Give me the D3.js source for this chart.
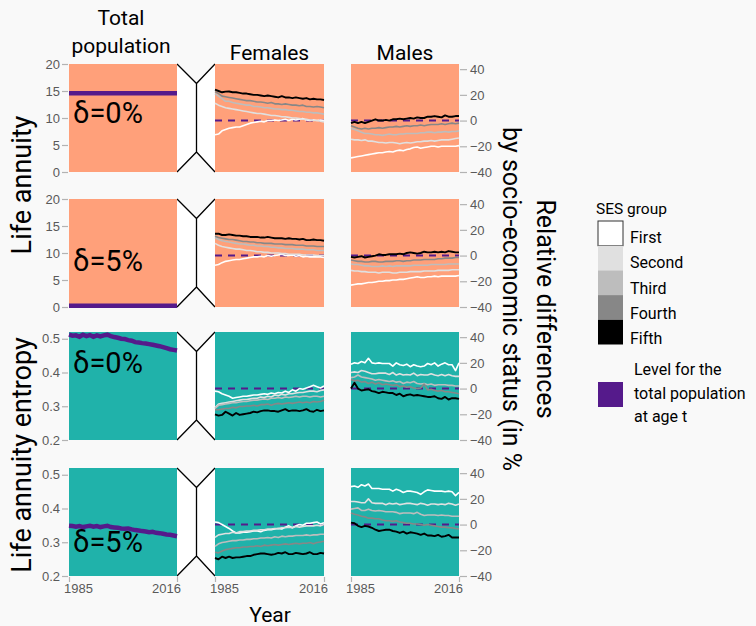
<!DOCTYPE html>
<html>
<head>
<meta charset="utf-8">
<script src="https://cdn.jsdelivr.net/npm/d3@7"></script>
<style>
  body { margin: 0; background: #f9f9f9; }
  svg { font-family: Roboto, "Noto Sans", sans-serif; display: block; }
</style>
</head>
<body>
<svg width="756" height="626"></svg>
<script>
// years shown on every panel
const years = d3.range(1985, 2017);

const sesGroups = ["First", "Second", "Third", "Fourth", "Fifth"];
const sesColors = ["#ffffff", "#e0e0e0", "#bdbdbd", "#878787", "#000000"];

// total population level (left column)
const totalAnnuity0 = [14.6,14.6,14.6,14.6,14.6,14.6,14.6,14.6,14.6,14.6,14.6,14.6,14.6,14.6,14.6,14.6,14.6,14.6,14.6,14.6,14.6,14.6,14.6,14.6,14.6,14.6,14.6,14.6,14.6,14.6,14.6,14.6];
const totalAnnuity5 = [0.25,0.25,0.25,0.25,0.25,0.25,0.25,0.25,0.25,0.25,0.25,0.25,0.25,0.25,0.25,0.25,0.25,0.25,0.25,0.25,0.25,0.25,0.25,0.25,0.25,0.25,0.25,0.25,0.25,0.25,0.25,0.25];
const totalEntropy0 = [0.512,0.509,0.51,0.506,0.512,0.508,0.511,0.506,0.51,0.507,0.51,0.512,0.508,0.505,0.503,0.5,0.499,0.496,0.494,0.49,0.489,0.487,0.486,0.484,0.482,0.48,0.478,0.475,0.472,0.469,0.467,0.465];
const totalEntropy5 = [0.349,0.348,0.346,0.348,0.345,0.347,0.349,0.346,0.348,0.345,0.347,0.349,0.345,0.344,0.343,0.341,0.34,0.341,0.338,0.336,0.335,0.333,0.332,0.33,0.331,0.328,0.327,0.325,0.323,0.322,0.32,0.318];

// relative differences by SES group (First..Fifth), in %
const femAnnuity0 = [
  [-11,-10.5,-8,-7,-6,-5.5,-5,-5,-4,-3,-2,-1.5,-1,-0.5,-1,0,0,0.5,0,0.5,1,0,1,0.5,1,1.5,0.5,0,0.5,0,0.5,0],
  [13.5,12,11,10,9.5,9,8.5,8,7.5,7,6.5,6,5.5,5.5,5,4.5,4,4,3.5,3,3,2.5,2,2,1.5,1,1,0.5,0,0,-0.5,-1],
  [21,19,17,15,15,14,13.5,13,12.5,12,12,11,11,10.5,10,10,9.5,9,9,8.5,8.5,8,8,7.5,7,7,6.5,6.5,6,6,5.5,5],
  [22.5,21,19,18.5,18,17.5,17,16.5,16,15.5,15.5,15,14.5,14.5,14,13.5,14,13,13,12.5,13,12.5,12,12,11.5,12,11,11,10.5,11,10.5,10],
  [24,23,22,22.5,22.6,22,22,21.5,21,21,20.5,20,20,19.5,19,19.5,19,18.5,18,19,18,18,17.5,18,17.5,17,17.5,16.5,17,16.5,16.5,16]
];
const maleAnnuity0 = [
  [-29,-28.5,-28,-27.5,-27,-26.5,-26,-25.5,-25,-25,-24.5,-24,-24.5,-23.5,-23,-23.5,-22.5,-22,-21,-20.5,-21.5,-21,-20.5,-20,-20,-20.5,-20,-20,-20,-20,-20,-19.5],
  [-14.5,-15,-15,-15.5,-15,-16,-16,-16.5,-17,-17,-17.5,-17,-17,-17.5,-18,-17.5,-17,-17.5,-17,-16.5,-16.5,-16,-16,-15.5,-16,-15.5,-15,-15,-15,-14.5,-14,-13.5],
  [-6,-7,-8,-9,-10,-10,-10.5,-11,-11,-11.5,-11,-10.5,-11,-11,-10.5,-10.5,-10,-10,-10,-10,-9.5,-9.5,-9,-9,-9.5,-9,-9,-8.5,-9,-8.5,-8.5,-8],
  [-4,-5,-6,-6.5,-6,-6.5,-6,-6,-5.5,-6,-5.5,-5,-5,-4.5,-5,-4.5,-4,-4.5,-4,-4,-3.5,-4,-3.5,-3,-3,-3,-2.5,-3,-2.5,-2,-2.5,-2],
  [-2,-1,-2,-1,-2,-1,0,1,0,0,0.5,0,1,1,1.5,1,1.5,2,1.5,2.5,2,2,3,3,3.5,3,2.5,4,3,3,3.5,3.5]
];
const femAnnuity5 = [
  [-7.5,-7,-5.5,-4.5,-4,-3.5,-3,-3,-2.5,-2,-1.5,-1,-1,-0.5,-1,0,-0.5,0,0.5,1,0,0,0.5,-0.5,0,-1,-0.5,-1,-1,-1,-1,-1.5],
  [9.5,8,7,6.5,6,5.5,5,5,4.5,4,4,3.5,3,3,2.5,2.5,2,2,2,1.5,1.5,1,1,1,1,0.5,0.5,0.5,0.5,0,0,0],
  [14,12.5,11.5,11,10.5,10,9.5,9,9,8.5,8,8,7.5,7.5,7,7,6.5,6.5,6,6,5.5,5.5,5.5,5,5,5,4.5,4.5,4.5,4,4,4],
  [15,14,13.5,13,12.5,12.5,12,11.5,11,11,10.5,10.5,10,10,9.5,9.5,9.5,9,9,9,8.5,8.5,8.5,8,8,8,7.5,7.5,7.5,7,7,7],
  [17,17,16,16,16.5,16,15.5,15.5,15,15,14.5,14.5,14.5,14,14,14.5,14,13.5,13.5,13.5,13,13.5,13,13,12.5,13,12,12,12.5,12,12,11.5]
];
const maleAnnuity5 = [
  [-23,-22.5,-22,-22,-21.5,-21,-21,-20.5,-20,-20,-19.5,-19.5,-19,-19,-18.5,-18.5,-18,-17.5,-17,-16.5,-17,-17,-16.5,-16.5,-16,-16.5,-16,-16,-16,-16,-16,-15.5],
  [-11.5,-12,-12,-12.5,-12.5,-13,-13,-13,-13.5,-13,-13,-13,-13.5,-13.5,-13,-13,-13,-12.5,-12.5,-12.5,-12.5,-12,-12,-12,-12,-11.5,-11.5,-11.5,-11.5,-11,-11,-11],
  [-6.5,-7,-7,-7.5,-8,-8,-8.5,-8.5,-8.5,-8,-8.5,-8,-8.5,-8,-8,-8,-8,-8,-7.5,-7.5,-7.5,-7.5,-7.5,-7,-7,-7,-7,-7,-6.5,-6.5,-6.5,-6.5],
  [-3.5,-4,-4.5,-4.5,-5,-5,-4.5,-4.5,-5,-5,-4.5,-4.5,-4.5,-4,-4,-4.5,-4,-4,-3.5,-3.5,-3.5,-3,-3,-3,-3,-2.5,-2.5,-2,-2,-2,-1.5,-1.5],
  [-1,-1.5,-1,-0.5,-1.5,-1,-0.5,0,1,0.5,0.5,1,1,1,1.5,1,2,2.5,2,1.5,2,3,2.5,2.5,3,2.5,3,2.5,3.5,3,2.5,2.5]
];
const femEntropy0 = [
  [-2,-2.5,-4,-5,-6,-7.5,-7,-6.5,-6,-6,-5.5,-5,-5,-4.5,-4,-4.5,-3.5,-4,-3,-3.5,-2,-3,-1,-2,0,-0.5,0.5,1.5,2.5,1.5,0.5,2],
  [-15,-12,-11.5,-11,-10.5,-10,-9.5,-9,-8.5,-8.5,-8,-7.5,-7.5,-6.5,-7,-6,-6.5,-5,-5.5,-4.5,-5,-4,-4,-3.5,-3,-3,-2.5,-2,-2,-2.5,-1.5,-1],
  [-15.5,-13,-12.5,-12,-11.5,-11,-11,-10.5,-10,-10,-9.5,-9,-9,-8.5,-8,-8.5,-7.5,-7.5,-7,-7.5,-6.5,-7,-6.5,-6,-6.5,-6,-6,-6.5,-6,-6,-6.5,-6],
  [-16.5,-16.5,-16,-15.5,-15.5,-14.5,-15,-14,-14,-13.5,-13.5,-13,-13.5,-12.5,-12.5,-12,-13,-12,-11.5,-12,-11.5,-11,-11.5,-11,-10.5,-11,-10.5,-11,-10,-10.5,-10,-9],
  [-20,-21,-20.5,-18,-19.5,-21,-19,-20.5,-20,-19.5,-19,-18,-18.5,-17.5,-17,-17,-17.5,-17.5,-18,-17,-16,-17.5,-17,-17,-17.5,-17,-16,-17.5,-18,-16.5,-17.5,-17]
];
const maleEntropy0 = [
  [19,20,19.5,21,20,23.5,20,19.5,20,19.5,19.5,19.5,17.5,20,18.5,18,19,17,18.5,17.5,17,17.5,19.5,18.5,20,17.5,19,20,18.5,18.5,14,20],
  [12.5,13,12.5,14,13.5,12.5,11.5,11.5,12,12,12,11,12.5,10.5,11.5,10.5,11,10.5,12,10,11,10.5,10.5,11.5,10.5,10,11,10,11,10,9.5,9.5],
  [8.5,9,10.5,9,8.5,8,7.5,6.5,7,6.5,6,5.5,6,5,5.5,4,5,4.5,5.5,4,3.5,4,3,3.5,2.5,3,3,3,2.5,2.5,2,2],
  [7,6,6.5,5,5.5,4,5,3.5,4.5,3,3.5,3,2.5,3,1.5,2,1,1.5,0.5,0,0.5,3.5,-1,-0.5,-1.5,-2,-1.5,-2.5,-2.5,-3,-3.5,-4],
  [0,4.5,0,-1.5,-1,-0.5,-2,-2.5,-3.5,-2.5,-3,-3.5,-3.5,-5,-4,-6,-5,-4.5,-5.5,-5,-5.5,-6,-6.5,-6.5,-6,-7.5,-8,-6.5,-8.5,-7.5,-7.5,-8]
];
const femEntropy5 = [
  [2,1.5,0,-1.5,-3,-5,-6.5,-6.5,-6,-6,-5.5,-5,-5,-5.5,-4.5,-4,-4,-3.5,-3,-3.5,-2,-1,-2.5,-1,0,-0.5,1,1,1.5,2,0.5,1.5],
  [-10,-8,-7.5,-7,-7,-6,-6.5,-5.5,-5.5,-5,-5,-4.5,-4.5,-4,-4,-3.5,-3.5,-3,-3,-2.5,-2.5,-2,-2.5,-1.5,-2,-1.5,-1,-1,-1,-0.5,-1,0],
  [-17,-15,-14,-13.5,-13,-12.5,-12.5,-12,-12,-11.5,-11.5,-11,-11,-10.5,-10.5,-10,-10.5,-9.5,-10,-9,-9.5,-9,-9,-8.5,-8.5,-8.5,-8,-8.5,-8,-8,-7.5,-7.5],
  [-21.5,-22,-20.5,-19.5,-19,-18.5,-18,-18,-17.5,-17.5,-17,-17,-16.5,-17,-16,-16.5,-16,-15.5,-16,-15.5,-15,-15.5,-15,-14.5,-15,-14.5,-14.5,-14,-15,-14,-13.5,-13],
  [-26,-27,-25,-26,-25,-26,-25.5,-25.5,-25,-24.5,-24.5,-23.5,-23,-22.5,-22.5,-23,-23.5,-23,-22,-22.5,-21.5,-23,-23,-22,-22.5,-23,-22.5,-21.5,-23,-23,-22,-22.5]
];
const maleEntropy5 = [
  [29.5,30,29,31,30,31.5,28,28,28,27.5,27.5,27.5,26,27.5,26.5,25,26,26,25.5,25,23.5,25.5,27,26.5,26,26,26,25.5,26,25.5,22.5,25],
  [18,18,17.5,17,17,20,17,16.5,16.5,16.5,15.5,16.5,16,16.5,15.5,16,16.5,16.5,16,15.5,16.5,16,15,16,16,15.5,16,15.5,16.5,16,15,16],
  [12,12.5,13,11,11,12,11,10.5,11,10.5,10,10,10,9.5,8.5,9,9,9,8.5,9.5,8,7,7.5,7.5,7.5,7,7.5,7,7,6.5,6.5,6.5],
  [9,8,7.5,6.5,6,5,5,4.5,4.5,3.5,3,3,2.5,3,2,1.5,1,1,0.5,0.5,0,-0.5,0,-0.5,-1,-1.5,-2,-2,-2.5,-2.5,-3,-3.5],
  [1.5,1,-1,-2,-1,-1.5,-2.5,-4,-5,-4.5,-4,-4,-5,-5.5,-6.5,-5.5,-7,-6,-6.5,-7,-8,-7,-8.5,-8.5,-9,-8,-9.5,-9,-8,-10,-10,-10]
];

const deltaLabels = ["δ=0%", "δ=5%", "δ=0%", "δ=5%"];
const annuityTicks = [0, 5, 10, 15, 20];
const entropyTicks = [0.2, 0.3, 0.4, 0.5];
const relTicks = [-40, -20, 0, 20, 40];
const yearTicks = [1985, 2016];

// ---- layout ----
const PURPLE = "#551a8b";
const SALMON = "#ffa07a";
const TEAL = "#20b2aa";
const PANEL_H = 108;
const rowTop = [64, 199, 332, 468];
const colTotal = [69, 177], colFem = [215, 324], colMale = [351, 459];
const deltaY = [59, 72, 41, 84];

const rows = [
  { total: totalAnnuity0, fem: femAnnuity0, male: maleAnnuity0, domain: [0, 20], ticks: annuityTicks, fmt: d3.format("d"), fill: SALMON },
  { total: totalAnnuity5, fem: femAnnuity5, male: maleAnnuity5, domain: [0, 20], ticks: annuityTicks, fmt: d3.format("d"), fill: SALMON },
  { total: totalEntropy0, fem: femEntropy0, male: maleEntropy0, domain: [0.2, 0.52], ticks: entropyTicks, fmt: d3.format(".1f"), fill: TEAL },
  { total: totalEntropy5, fem: femEntropy5, male: maleEntropy5, domain: [0.2, 0.52], ticks: entropyTicks, fmt: d3.format(".1f"), fill: TEAL }
];

var svg = d3.select("svg");

const xTotal = d3.scaleLinear().domain([1985, 2016]).range(colTotal);
const xFem = d3.scaleLinear().domain([1985, 2016]).range(colFem);
const xMale = d3.scaleLinear().domain([1985, 2016]).range(colMale);

function styleAxis(g) {
  g.select(".domain").remove();
  g.selectAll(".tick line").attr("stroke", "#b3b3b3").attr("stroke-width", 1.2);
  g.selectAll(".tick text").attr("fill", "#595959").style("font-size", "13px");
}

rows.forEach(function(row, i) {
  const top = rowTop[i], bottom = top + PANEL_H;
  const yLeft = d3.scaleLinear().domain(row.domain).range([bottom, top]);
  const yRel = d3.scaleLinear().domain([-40, 44]).range([bottom, top]);

  // hourglass connector between total and sex panels
  const mx = 196.5;
  svg.append("path")
    .attr("d", "M" + colTotal[1] + "," + top + " L" + mx + "," + (top + 19.5) + " L" + colFem[0] + "," + top +
      " L" + colFem[0] + "," + bottom + " L" + mx + "," + (bottom - 20) + " L" + colTotal[1] + "," + bottom + "Z")
    .attr("fill", "#ffffff");
  svg.append("path")
    .attr("d", "M" + colTotal[1] + "," + top + " L" + mx + "," + (top + 19.5) + " L" + colFem[0] + "," + top +
      " M" + mx + "," + (top + 19.5) + " L" + mx + "," + (bottom - 20) +
      " M" + colTotal[1] + "," + bottom + " L" + mx + "," + (bottom - 20) + " L" + colFem[0] + "," + bottom)
    .attr("fill", "none").attr("stroke", "#000").attr("stroke-width", 1.3);

  [[xTotal, colTotal], [xFem, colFem], [xMale, colMale]].forEach(function(c) {
    svg.append("rect")
      .attr("x", c[1][0]).attr("y", top)
      .attr("width", c[1][1] - c[1][0]).attr("height", PANEL_H)
      .attr("fill", row.fill);
  });

  // total population level
  svg.append("path")
    .datum(row.total)
    .attr("fill", "none")
    .attr("stroke", PURPLE)
    .attr("stroke-width", 4.5)
    .attr("d", d3.line().x(function(d, j) { return xTotal(years[j]); }).y(function(d) { return yLeft(d); }));

  svg.append("text")
    .attr("x", 73).attr("y", top + deltaY[i])
    .style("font-size", "29px")
    .text(deltaLabels[i]);

  // sex specific panels
  [[xFem, row.fem], [xMale, row.male]].forEach(function(p) {
    const x = p[0];
    svg.append("line")
      .attr("x1", x.range()[0]).attr("x2", x.range()[1])
      .attr("y1", yRel(0)).attr("y2", yRel(0))
      .attr("stroke", PURPLE).attr("stroke-width", 2)
      .attr("stroke-dasharray", "7,6");
    svg.append("g").selectAll("path")
      .data(p[1])
      .enter().append("path")
      .attr("fill", "none")
      .attr("stroke", function(d, k) { return sesColors[k]; })
      .attr("stroke-width", function(d, k) { return k == 4 ? 1.9 : 1.6; })
      .attr("stroke-linejoin", "round")
      .attr("d", d3.line().x(function(d, j) { return x(years[j]); }).y(function(d) { return yRel(d); }));
  });

  svg.append("g")
    .attr("transform", "translate(" + (colTotal[0] - 1) + ",0)")
    .call(d3.axisLeft(yLeft).tickValues(row.ticks).tickFormat(row.fmt).tickSize(6).tickPadding(2))
    .call(styleAxis);

  svg.append("g")
    .attr("transform", "translate(" + (colMale[1] + 1) + ",0)")
    .call(d3.axisRight(yRel).tickValues(relTicks).tickSize(7).tickPadding(3))
    .call(styleAxis);

  if (i == 3) {
    [xTotal, xFem, xMale].forEach(function(x) {
      svg.append("g")
        .attr("transform", "translate(0," + (bottom + 1) + ")")
        .call(d3.axisBottom(x).tickValues(yearTicks).tickFormat(d3.format("d")).tickSize(5).tickPadding(2))
        .call(styleAxis)
        .selectAll(".tick text")
        .attr("dx", function(d) { return d == 1985 ? 9 : -11; });
    });
  }
});

// column titles
svg.append("text").attr("x", 121).attr("y", 25).attr("text-anchor", "middle").style("font-size", "21px").text("Total");
svg.append("text").attr("x", 121).attr("y", 53).attr("text-anchor", "middle").style("font-size", "21px").text("population");
svg.append("text").attr("x", 269.5).attr("y", 60).attr("text-anchor", "middle").style("font-size", "21px").text("Females");
svg.append("text").attr("x", 405).attr("y", 60).attr("text-anchor", "middle").style("font-size", "21px").text("Males");

// axis titles
svg.append("text").attr("transform", "translate(31,185) rotate(-90)").attr("text-anchor", "middle")
  .style("font-size", "27px").text("Life annuity");
svg.append("text").attr("transform", "translate(31,455) rotate(-90)").attr("text-anchor", "middle")
  .style("font-size", "27px").text("Life annuity entropy");
svg.append("text").attr("transform", "translate(537,309) rotate(90)").attr("text-anchor", "middle")
  .style("font-size", "25px").text("Relative differences");
svg.append("text").attr("transform", "translate(503,127) rotate(90)").attr("text-anchor", "start")
  .style("font-size", "25px").text("by socio-economic status (in %");
svg.append("text").attr("x", 270).attr("y", 622).attr("text-anchor", "middle").style("font-size", "21px").text("Year");

// legend
const legend = svg.append("g").attr("transform", "translate(598,0)");
legend.append("text").attr("x", -2).attr("y", 214).style("font-size", "15.5px").text("SES group");
legend.selectAll("rect.ses")
  .data(sesGroups)
  .enter().append("rect")
  .attr("class", "ses")
  .attr("x", 0).attr("y", function(d, i) { return 221 + i * 24.7; })
  .attr("width", 25).attr("height", 24.7)
  .attr("fill", function(d, i) { return sesColors[i]; })
  .attr("stroke", function(d, i) { return i == 0 ? "#333" : "none"; })
  .attr("stroke-width", 1);
legend.selectAll("text.ses")
  .data(sesGroups)
  .enter().append("text")
  .attr("class", "ses")
  .attr("x", 32).attr("y", function(d, i) { return 243 + i * 25.3; })
  .style("font-size", "16px")
  .text(function(d) { return d; });
legend.append("rect").attr("x", 0).attr("y", 382).attr("width", 25).attr("height", 25).attr("fill", PURPLE);
["Level for the", "total population", "at age t"].forEach(function(t, i) {
  legend.append("text").attr("x", 36).attr("y", 375 + i * 23.5).style("font-size", "16px").text(t);
});
</script>
</body>
</html>
